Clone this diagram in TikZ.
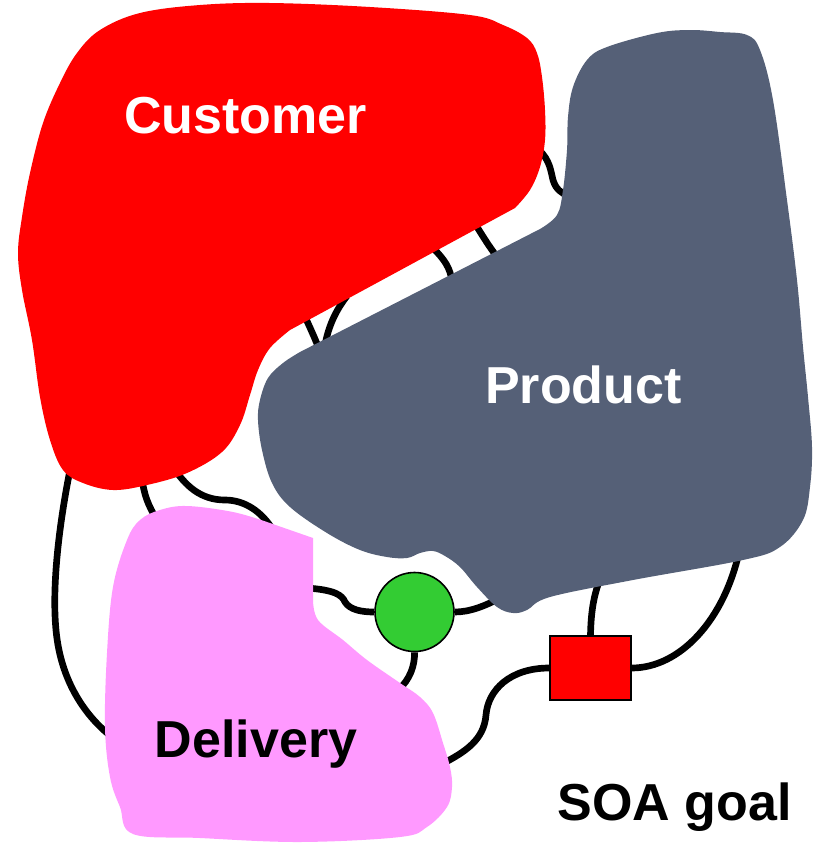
\documentclass[tikz,border=0pt]{standalone}
\usepackage{fontspec}
\setmainfont{Liberation Sans}
\pgfdeclarelayer{wires}
\pgfsetlayers{wires,main}
\definecolor{custred}{HTML}{FF0000}
\definecolor{prodgrey}{HTML}{556077}
\definecolor{delpink}{HTML}{FF99FF}
\definecolor{svcgreen}{HTML}{33CC33}
\begin{document}
\begin{tikzpicture}[x=0.75pt,y=-0.75pt,
  wire/.style={line width=5pt,black},
  blob/.style={smooth,tension=0.6},
  domainlabel/.style={font=\fontsize{39}{47}\selectfont\bfseries,anchor=base,inner sep=0pt},
  hub/.style={circle,draw=black,line width=1.2pt,fill=svcgreen,minimum size=59.25pt,inner sep=0pt},
  gate/.style={rectangle,draw=black,line width=1pt,fill=custred,minimum width=60.75pt,minimum height=48pt,inner sep=0pt}]
\useasboundingbox (0,0) rectangle (817,844);

% Customer domain
\fill[custred] (515,208) -- (290,330) -- plot[blob] coordinates {
  (290,330) (270,348) (258,370) (250,395) (240,425) (222,452) (187,473)
  (147,485) (113,490) (83,483) (63,470) (50,440) (40,397) (32,340)
  (22,290) (18,253) (22,217) (30,173) (43,123) (60,83) (77,53) (100,30)
  (140,13) (200,5) (270,3) (370,7) (470,15) (503,25) (527,38) (537,53)
  (542,77) (545,110) (545,140) (540,167) (530,190) (515,208)} -- cycle;

% Product domain
\fill[prodgrey] (540,229) -- (300,352) -- plot[blob] coordinates {
  (300,352) (283,363) (268,378) (260,400) (258,420) (262,450) (272,483)
  (290,507) (327,533) (360,550) (387,557) (407,558) (420,553) (433,551)
  (445,556) (460,567) (477,587) (497,607) (513,613) (527,610) (550,597)
  (633,580) (743,560) (780,547) (803,520) (810,487) (812,447) (808,397)
  (803,347) (797,280) (787,200) (773,100) (760,50) (747,35) (720,32)
  (690,30) (657,33) (607,47) (587,60) (573,87) (568,117) (567,150)
  (563,190) (557,215) (540,229)} -- cycle;

% Delivery domain
\fill[delpink] (267,522) -- (313,538) -- (313,600) -- plot[blob] coordinates {
  (313,600) (318,620) (343,640) (367,660) (400,683) (420,697) (433,713)
  (443,743) (450,767) (452,787) (447,807) (427,827) (400,837) (300,842)
  (200,838) (133,834) (120,807) (110,777) (105,727) (107,653) (113,587)
  (127,540) (140,520) (160,510) (187,506) (233,512) (267,522)} -- cycle;

% Labels
\node[domainlabel,white] (custlabel) at (245.5,133) {Customer};
\node[domainlabel,white] (prodlabel) at (583.5,403) {Product};
\node[domainlabel,black] (dellabel) at (256,757) {Delivery};
\node[domainlabel,black] (goal) at (674.5,820) {SOA goal};

% Shared services
\node[hub] (hub) at (414.5,612) {};
\node[gate] (gate) at (590.5,668) {};

% Connector ends inside the domains
\coordinate (cu1) at (539,150);
\coordinate (pr1) at (568,196);
\coordinate (cu2) at (474,222);
\coordinate (pr2) at (498,258);
\coordinate (cu3) at (433,248);
\coordinate (pr3) at (452,281);
\coordinate (cu4) at (303,312);
\coordinate (pr4) at (320,352);
\coordinate (cu5) at (347,296);
\coordinate (pr5) at (324,352);
\coordinate (cu6) at (70,470);
\coordinate (de6) at (112,737);
\coordinate (cu7) at (142,478);
\coordinate (de7) at (157,520);
\coordinate (cu8) at (173,467);
\coordinate (de8) at (273,530);
\coordinate (de9) at (307,588);
\coordinate (pr10) at (502,597);
\coordinate (de11) at (398,690);
\coordinate (pr12) at (603,572);
\coordinate (pr13) at (740,548);
\coordinate (de14) at (442,764);

\begin{pgfonlayer}{wires}
  \draw[wire] (cu1) .. controls (550,160) and (551,172) .. (553,180)
                    .. controls (556,190) and (562,193) .. (pr1);
  \draw[wire] (cu2) .. controls (482,235) and (490,248) .. (pr2);
  \draw[wire] (cu3) .. controls (445,260) and (450,268) .. (pr3);
  \draw[wire] (cu4) .. controls (310,328) and (316,340) .. (pr4);
  \draw[wire] (cu5) .. controls (332,315) and (326,335) .. (pr5);
  \draw[wire] (cu6) .. controls (58,530) and (50,600) .. (58,645)
                    .. controls (66,690) and (90,720) .. (de6);
  \draw[wire] (cu7) .. controls (144,495) and (148,505) .. (de7);
  \draw[wire] (cu8) .. controls (185,485) and (200,500) .. (225,500)
                    .. controls (245,500) and (262,512) .. (de8);
  \draw[wire] (de9) .. controls (335,590) and (342,595) .. (345,602)
                    .. controls (350,610) and (362,612) .. (hub.west);
  \draw[wire] (hub.east) .. controls (470,612) and (485,606) .. (pr10);
  \draw[wire] (hub.south) .. controls (415,665) and (410,680) .. (de11);
  \draw[wire] (gate.north) .. controls (591,610) and (594,592) .. (pr12);
  \draw[wire] (gate.east) .. controls (680,668) and (725,620) .. (pr13);
  \draw[wire] (gate.west) .. controls (510,668) and (488,690) .. (486,715)
                          .. controls (484,740) and (465,752) .. (de14);
\end{pgfonlayer}
\end{tikzpicture}
\end{document}
